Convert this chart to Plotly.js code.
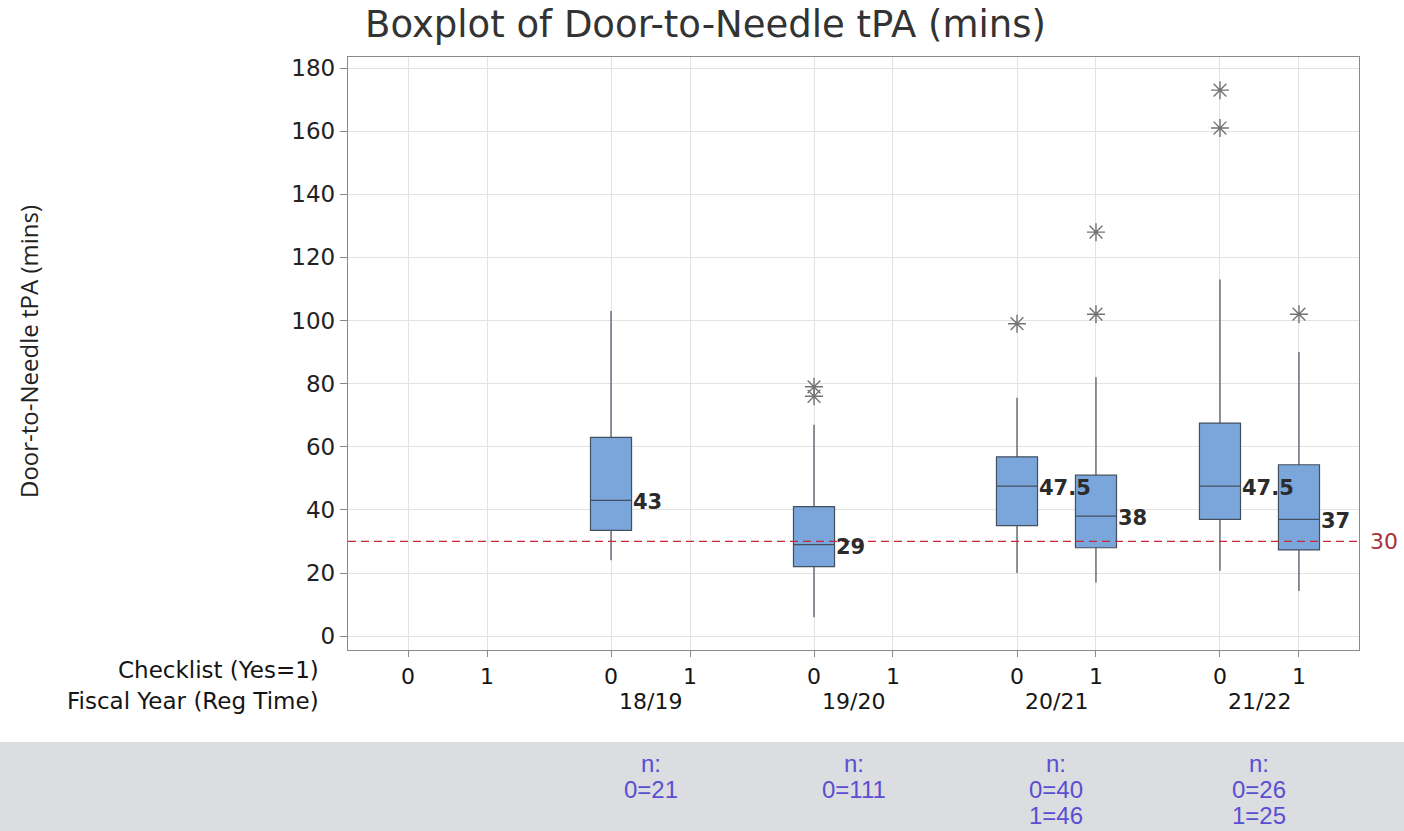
<!DOCTYPE html>
<html>
<head>
<meta charset="utf-8">
<script src="https://cdn.plot.ly/plotly-3.0.1.min.js"></script>
<style>html,body{margin:0;padding:0;background:#fff;}#chart{width:1404px;height:831px;}</style>
</head>
<body>
<div id="chart"></div>
<script>
// ---- data ----
const fiscalYears = ["", "18/19", "19/20", "20/21", "21/22"];
const checklistLevels = ["0", "1"];

const boxYear   = ["18/19", "19/20", "20/21", "20/21", "21/22", "21/22"];
const boxCheck  = [0, 0, 0, 1, 0, 1];
const q1        = [33.5, 22, 35, 28, 37, 27.3];
const median    = [43, 29, 47.5, 38, 47.5, 37];
const q3        = [63, 41, 56.8, 51, 67.5, 54.3];
const lowerWhisker = [24, 6, 20, 17, 20.7, 14.3];
const upperWhisker = [103, 67, 75.5, 82, 113, 90];

const outYear  = ["19/20", "19/20", "20/21", "20/21", "20/21", "21/22", "21/22", "21/22"];
const outCheck = [0, 0, 0, 1, 1, 0, 0, 1];
const outValue = [79, 76, 99, 128, 102, 173, 161, 102];

const countYear  = ["18/19", "19/20", "20/21", "20/21", "21/22", "21/22"];
const countCheck = [0, 0, 0, 1, 0, 1];
const countN     = [21, 111, 40, 46, 26, 25];

const targetValue = 30;

// ---- layout helpers ----
const groupStep = 2.57;
const pos = (year, c) => fiscalYears.indexOf(year) * groupStep + Number(c);
const pxToPaperY = Y => (650 - Y) / 593;
const pxToPaperX = X => (X - 348) / 1011;

const tickvals = [], ticktext = [];
fiscalYears.forEach(fy => checklistLevels.forEach(c => {
  tickvals.push(pos(fy, c)); ticktext.push(c);
}));

const boxX = boxYear.map((y, i) => pos(y, boxCheck[i]));

const traces = [
  {
    type: 'box',
    x: boxX,
    q1: q1, median: median, q3: q3,
    lowerfence: lowerWhisker, upperfence: upperWhisker,
    width: 0.52,
    whiskerwidth: 0,
    boxpoints: false,
    fillcolor: '#7aa6dc',
    line: {color: '#45505e', width: 1.2},
    hoverinfo: 'skip',
    showlegend: false
  },
  {
    type: 'scatter',
    mode: 'markers',
    x: outYear.map((y, i) => pos(y, outCheck[i])),
    y: outValue,
    marker: {symbol: 'asterisk-open', size: 15, color: '#737373', line: {color: '#737373', width: 1.4}},
    hoverinfo: 'skip',
    showlegend: false
  }
];

const rowFont = {family: 'DejaVu Sans', size: 23, color: '#151515'};
const yearFont = {family: 'DejaVu Sans', size: 22, color: '#151515'};
const annotations = [];
// median labels
boxX.forEach((x, i) => {
  annotations.push({
    x: x + 0.27, y: median[i], xref: 'x', yref: 'y',
    text: String(median[i]), showarrow: false, xanchor: 'left', yanchor: 'middle',
    yshift: -2, xshift: -1,
    font: {family: 'DejaVu Sans', size: 21, color: '#2b2b2b', weight: 'bold'}
  });
});
// fiscal year labels
fiscalYears.forEach(fy => {
  if (!fy) return;
  annotations.push({
    x: (pos(fy, 0) + pos(fy, 1)) / 2, y: pxToPaperY(701), xref: 'x', yref: 'paper',
    text: fy, showarrow: false, xanchor: 'center', yanchor: 'middle',
    font: yearFont
  });
});
// row labels
annotations.push({
  x: pxToPaperX(321), y: pxToPaperY(670), xref: 'paper', yref: 'paper', xanchor: 'right', yanchor: 'middle',
  text: 'Checklist (Yes=1)', showarrow: false, font: rowFont
}, {
  x: pxToPaperX(321), y: pxToPaperY(701), xref: 'paper', yref: 'paper', xanchor: 'right', yanchor: 'middle',
  text: 'Fiscal Year (Reg Time)', showarrow: false, font: rowFont
});
// y axis title
annotations.push({
  x: pxToPaperX(28), y: pxToPaperY(352), xref: 'paper', yref: 'paper', xanchor: 'center', yanchor: 'middle',
  textangle: -90, text: 'Door-to-Needle tPA (mins)', showarrow: false,
  font: {family: 'Open Sans', size: 24, color: '#222222'}
});
// target label
annotations.push({
  x: 1, y: targetValue, xref: 'paper', yref: 'y', xanchor: 'left', yanchor: 'middle', xshift: 9,
  text: String(targetValue), showarrow: false, font: {family: 'DejaVu Sans', size: 22, color: '#a8323a'}
});
// n counts
fiscalYears.forEach(fy => {
  if (!fy) return;
  const cx = (pos(fy, 0) + pos(fy, 1)) / 2;
  const lines = ['n:'];
  countYear.forEach((y, i) => { if (y === fy) lines.push(countCheck[i] + '=' + countN[i]); });
  lines.forEach((t, k) => {
    annotations.push({
      x: cx, y: pxToPaperY(763 + 26 * k), xref: 'x', yref: 'paper', xanchor: 'center', yanchor: 'middle',
      text: t, showarrow: false, font: {family: 'Liberation Sans', size: 24, color: '#5a4fd2'}
    });
  });
});

const shapes = [
  {type: 'rect', xref: 'paper', yref: 'paper', x0: -348/1011, x1: 1056/1011,
   y0: pxToPaperY(831), y1: pxToPaperY(742), fillcolor: '#dcdde0', line: {width: 0}, layer: 'below'},
  {type: 'line', xref: 'paper', yref: 'y', x0: 0, x1: 1, y0: targetValue, y1: targetValue,
   line: {color: '#c8283a', width: 1.2, dash: '8px,5px'}}
];

const layout = {
  width: 1404, height: 831,
  margin: {l: 348, r: 45, t: 57, b: 181},
  paper_bgcolor: '#ffffff', plot_bgcolor: '#ffffff',
  title: {
    text: 'Boxplot of Door-to-Needle tPA (mins)',
    xref: 'container', yref: 'container', x: 365/1404, xanchor: 'left', y: 1 - 24/831, yanchor: 'middle',
    font: {family: 'DejaVu Sans', size: 37, color: '#333333'}
  },
  xaxis: {
    type: 'linear', range: [-0.76, 12.04],
    tickmode: 'array', tickvals: tickvals, ticktext: ticktext,
    showgrid: true, gridcolor: '#e3e3e3', gridwidth: 1,
    zeroline: false, showline: true, linecolor: '#8a8a8a', linewidth: 1.2, mirror: true,
    ticks: 'outside', ticklen: 6, tickcolor: '#8a8a8a',
    tickfont: {family: 'DejaVu Sans', size: 22, color: '#151515'}
  },
  yaxis: {
    range: [-4.4, 183.5], tickmode: 'array', tickvals: [0,20,40,60,80,100,120,140,160,180],
    showgrid: true, gridcolor: '#e3e3e3', gridwidth: 1,
    zeroline: false, showline: true, linecolor: '#8a8a8a', linewidth: 1.2, mirror: true,
    ticks: 'outside', ticklen: 7, tickcolor: '#8a8a8a',
    tickfont: {family: 'DejaVu Sans', size: 23, color: '#222222'}
  },
  annotations: annotations,
  shapes: shapes,
  showlegend: false
};

Plotly.newPlot('chart', traces, layout, {staticPlot: true, displayModeBar: false});
</script>
</body>
</html>
